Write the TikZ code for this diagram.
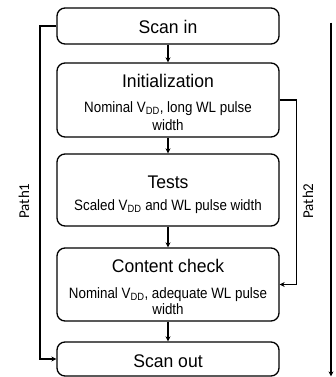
\documentclass[tikz,border=0pt]{standalone}
\usepackage{fontspec}
\setmainfont{Liberation Sans}
\newfontfamily\titlefont[FakeStretch=0.96]{Liberation Sans}
\newfontfamily\subfont[FakeStretch=0.89]{Liberation Sans}
\newfontfamily\pathfont{Carlito}
\usetikzlibrary{arrows.meta}
\begin{document}
\begin{tikzpicture}[x=1pt,y=-1pt,
  box/.style={draw, rounded corners=8pt, line width=1.3pt, minimum width=222pt, inner sep=0pt},
  ttl/.style={font=\titlefont\fontsize{18.3}{21}\selectfont, inner sep=0pt, anchor=base},
  sub/.style={font=\subfont\fontsize{15}{17}\selectfont, inner sep=0pt, anchor=base},
  plab/.style={font=\pathfont\fontsize{15}{18}\selectfont, rotate=90, inner sep=0pt},
  arr/.style={line width=1.3pt, -{Stealth[length=5pt,width=5pt]}}]
\useasboundingbox (0,0) rectangle (335,377);
\node[box, minimum height=36pt] (scanin) at (168,26) {};
\node[box, minimum height=74pt] (init) at (168,100) {};
\node[box, minimum height=72pt] (tests) at (168,190) {};
\node[box, minimum height=73pt] (check) at (168,284.5) {};
\node[box, minimum height=34pt] (scanout) at (168,359) {};
\node[ttl] (t1) at (168,34) {Scan in};
\node[ttl] (t2) at (168,88) {Initialization};
\node[sub] (s2a) at (168,112.5) {Nominal V\textsubscript{DD}, long WL pulse};
\node[sub] (s2b) at (168,130) {width};
\node[ttl] (t3) at (168,188.3) {Tests};
\node[sub] (s3) at (168,210.7) {Scaled V\textsubscript{DD} and WL pulse width};
\node[ttl] (t4) at (168,272) {Content check};
\node[sub] (s4a) at (168,298) {Nominal V\textsubscript{DD}, adequate WL pulse};
\node[sub] (s4b) at (168,314) {width};
\node[ttl] (t5) at (168,367) {Scan out};
\draw[arr] (scanin) -- (init);
\draw[arr] (init) -- (tests);
\draw[arr] (tests) -- (check);
\draw[arr] (check) -- (scanout);
\draw[arr] (scanin.west) -- ++(-16.5,0) |- (scanout.west);
\draw[arr] (init.east) -- ++(17,0) |- (check.east);
\coordinate (rtop) at (331,22.7);
\coordinate (rbot) at (331,376.4);
\draw[arr] (rtop) -- (rbot);
\node[plab] (p1) at (24,201) {Path1};
\node[plab] (p2) at (308,201) {Path2};
\end{tikzpicture}
\end{document}
